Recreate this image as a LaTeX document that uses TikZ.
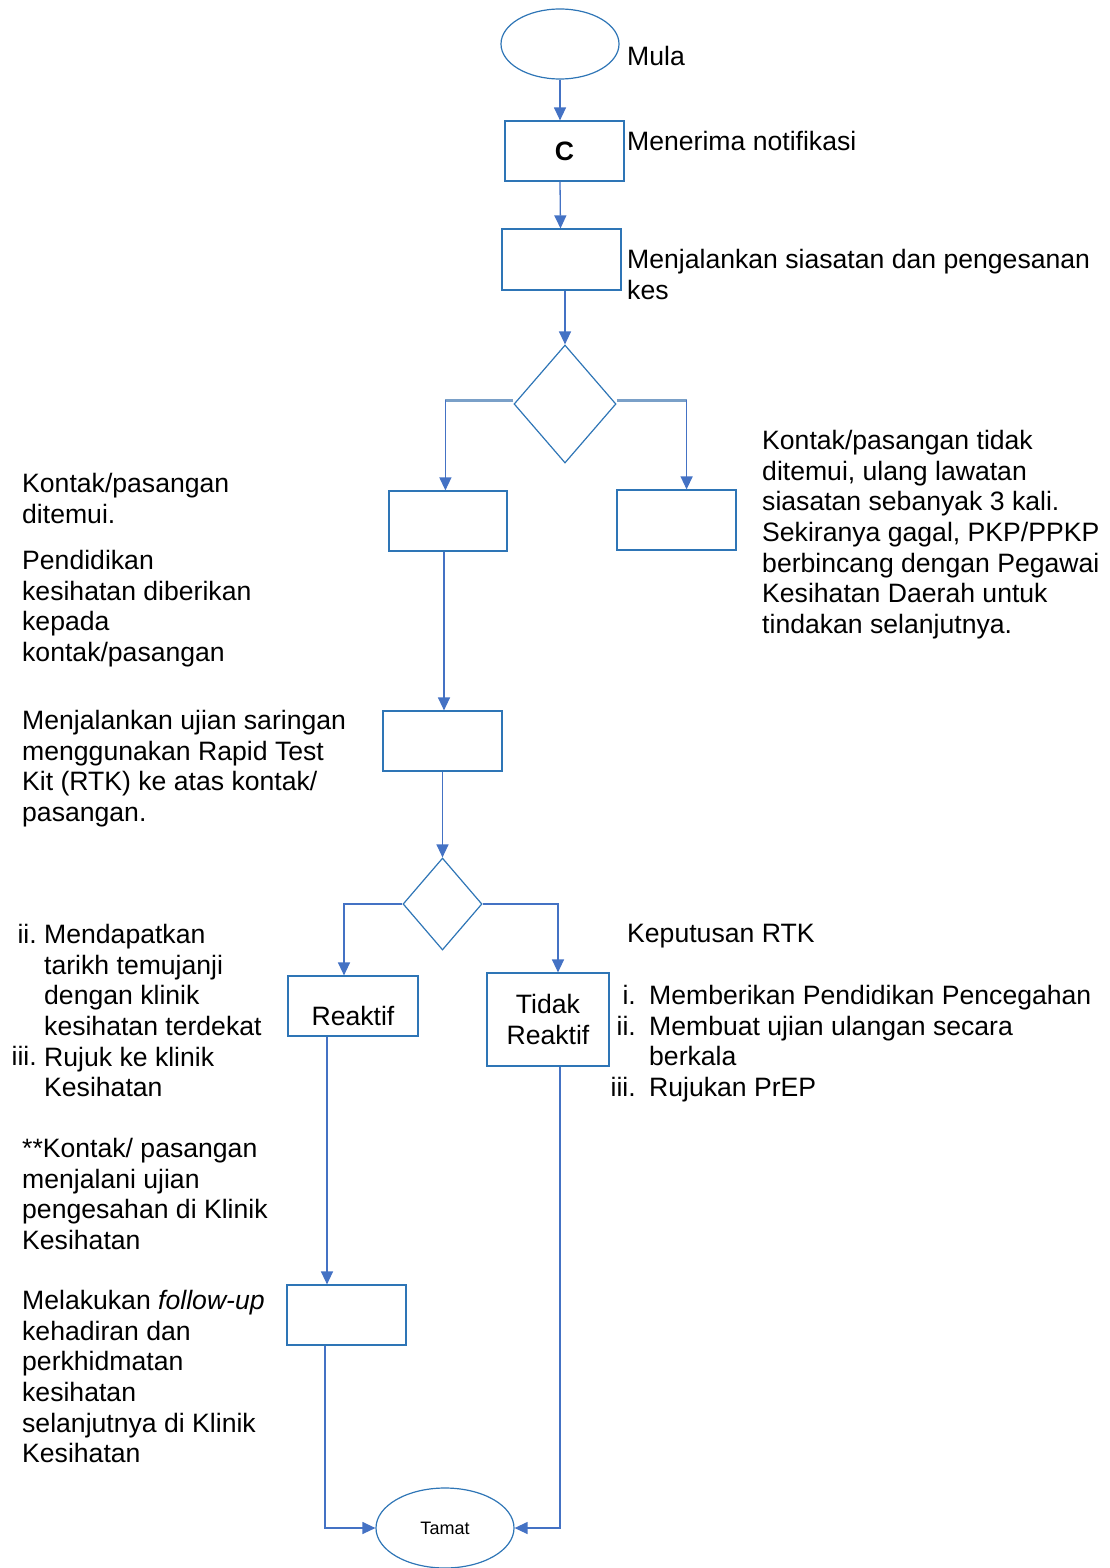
\documentclass[tikz,border=0pt]{standalone}
\usepackage{fontspec}
\setmainfont{Liberation Sans}
\usetikzlibrary{arrows.meta,shapes.geometric}
\definecolor{bx}{RGB}{46,117,182}
\definecolor{ln}{RGB}{68,114,196}
\definecolor{lnlight}{RGB}{122,160,200}
\begin{document}
\begin{tikzpicture}[x=1pt,y=-1pt,
  box/.style={draw=bx, line width=1.2pt, inner sep=0pt, align=center, font=\fontsize{26.6}{30.7}\selectfont},
  oval/.style={ellipse, draw=bx, line width=1.2pt, inner sep=0pt},
  dia/.style={diamond, draw=bx, line width=1.2pt, inner sep=0pt},
  conn/.style={draw=ln, line width=1.3pt, -{Triangle[width=12pt,length=13pt]}},
  plain/.style={draw=ln, line width=1.3pt},
  heavy/.style={draw=lnlight, line width=3pt},
  txt/.style={anchor=north west, align=left, inner sep=0pt, font=\fontsize{26.6}{30.7}\selectfont},
  num/.style={anchor=north east, inner sep=0pt, font=\fontsize{26.6}{30.7}\selectfont}]
\useasboundingbox (0,0) rectangle (1110,1568);

% shapes
\node[oval, minimum width=118pt, minimum height=70pt] (start) at (560,44) {};
\node[box, minimum width=119pt, minimum height=60pt] (c) at (564.5,151) {\textbf{C}};
\node[box, minimum width=119pt, minimum height=61pt] (b2) at (561.5,259.5) {};
\node[dia, minimum width=102pt, minimum height=118pt] (d1) at (565,404) {};
\node[box, minimum width=118pt, minimum height=60pt] (bl) at (448,521) {};
\node[box, minimum width=119pt, minimum height=60pt] (br) at (676.5,520) {};
\node[box, minimum width=119pt, minimum height=60pt] (b3) at (442.5,741) {};
\node[dia, minimum width=79pt, minimum height=92pt] (d2) at (442.5,904) {};
\node[box, minimum width=130pt, minimum height=60pt] (reak) at (353,1006) {};
\node[inner sep=0pt, font=\fontsize{26.6}{30.7}\selectfont] (treak) at (353,1016) {Reaktif};
\node[box, minimum width=122pt, minimum height=93pt] (tidak) at (548,1019.5) {Tidak\\Reaktif};
\node[box, minimum width=119pt, minimum height=60pt] (b4) at (346.5,1315) {};
\node[oval, minimum width=138pt, minimum height=80pt, font=\fontsize{18}{20}\selectfont] (end) at (445,1528) {Tamat};

% texts
\node[txt] (tmula) at (627,46) {Mula};
\node[txt] (tnotif) at (627,131) {Menerima notifikasi};
\node[txt] (tsiasat) at (627,249) {Menjalankan siasatan dan pengesanan\\kes};
\node[txt] (tditemui) at (22,473) {Kontak/pasangan\\ditemui.};
\node[txt] (tpend) at (22,550) {Pendidikan\\kesihatan diberikan\\kepada\\kontak/pasangan};
\node[txt] (ttidak) at (762,430) {Kontak/pasangan tidak\\ditemui, ulang lawatan\\siasatan sebanyak 3 kali.\\Sekiranya gagal, PKP/PPKP\\berbincang dengan Pegawai\\Kesihatan Daerah untuk\\tindakan selanjutnya.};
\node[txt] (tujian) at (22,710) {Menjalankan ujian saringan\\menggunakan Rapid Test\\Kit (RTK) ke atas kontak/\\pasangan.};
\node[num] (nii) at (37,924) {ii.};
\node[num] (niii) at (37,1046) {iii.};
\node[txt] (tlistl) at (44,924) {Mendapatkan\\tarikh temujanji\\dengan klinik\\kesihatan terdekat\\Rujuk ke klinik\\Kesihatan};
\node[txt] (tkep) at (627,924) {Keputusan RTK};
\node[num] (ri) at (636,985) {i.};
\node[num] (rii) at (636,1016) {ii.};
\node[num] (riii) at (636,1077) {iii.};
\node[txt] (tlistr) at (649,985) {Memberikan Pendidikan Pencegahan\\Membuat ujian ulangan secara\\berkala\\Rujukan PrEP};
\node[txt] (tsah) at (22,1138) {**Kontak/ pasangan\\menjalani ujian\\pengesahan di Klinik\\Kesihatan};
\node[txt] (tfollow) at (22,1290) {Melakukan \textit{follow-up}\\kehadiran dan\\perkhidmatan\\kesihatan\\selanjutnya di Klinik\\Kesihatan};

% connectors
\draw[conn] (start.south) -- (start.south |- c.north);
\draw[conn] (start.south |- c.south) -- ([xshift=-1pt]b2.north);
\draw[conn] (d1.north |- b2.south) -- (d1.north);
\draw[heavy] ([yshift=4pt]d1.west) -- ++(-68,0) coordinate (kl1);
\draw[conn] (kl1) -- (kl1 |- bl.north);
\draw[heavy] ([yshift=4pt]d1.east) -- ++(70,0) coordinate (kr1);
\draw[conn] (kr1) -- (kr1 |- br.north);
\draw[conn] ([xshift=-4pt]bl.south) -- ([xshift=-4pt]bl.south |- b3.north);
\draw[conn] (b3.south) -- (d2.north);
\draw[conn] (d2.west) -| ([xshift=-9pt]reak.north);
\draw[conn] (d2.east) -| ([xshift=10pt]tidak.north);
\draw[conn] ([xshift=-26pt]reak.south) -- ([xshift=-26pt]reak.south |- b4.north);
\draw[conn] ([xshift=-21.5pt]b4.south) |- (end.west);
\draw[conn] ([xshift=12pt]tidak.south) |- (end.east);
\end{tikzpicture}
\end{document}
